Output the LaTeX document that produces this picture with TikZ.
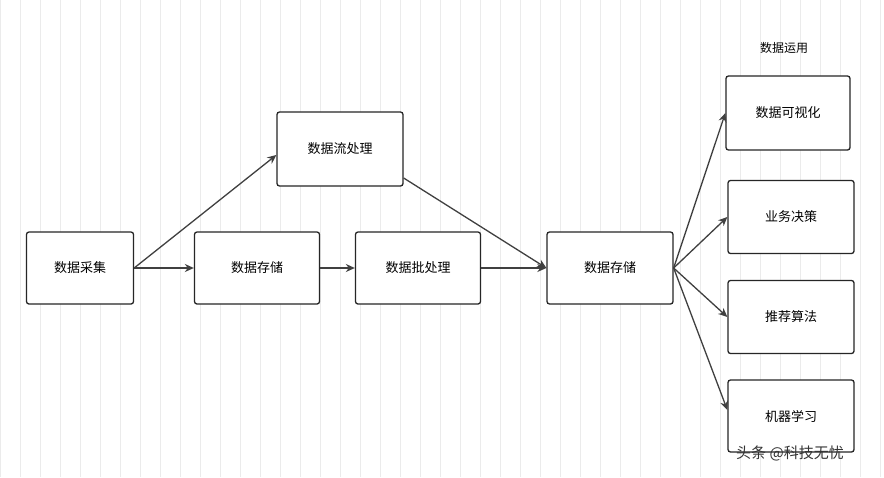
\documentclass[tikz,border=0pt]{standalone}
\usepackage{fontspec}
\newfontfamily\cjk{Noto Sans CJK SC}
\usetikzlibrary{arrows.meta}
\begin{document}
\begin{tikzpicture}[x=1pt,y=-1pt,
  box/.style={draw=black!85,line width=1.3pt,rounded corners=2.5pt,fill=white,font=\cjk\fontsize{13}{15}\selectfont,inner sep=0pt},
  arr/.style={draw=black!75,line width=1.3pt,-{Stealth[length=9pt,width=8pt]}}]
\useasboundingbox (0,0) rectangle (884,477);
\fill[white] (0,0) rectangle (884,477);
\draw[black!8,line width=0.5pt] (0,0) grid[step=20] (884,477);
\node[box,minimum width=107pt,minimum height=72pt] (a) at (80,268) {数据采集};
\node[box,minimum width=125pt,minimum height=72pt] (s1) at (257,268) {数据存储};
\node[box,minimum width=125pt,minimum height=72pt] (b) at (418,268) {数据批处理};
\node[box,minimum width=126pt,minimum height=74pt] (f) at (340,149) {数据流处理};
\node[box,minimum width=126pt,minimum height=72pt] (s2) at (610,268) {数据存储};
\node[box,minimum width=124pt,minimum height=74pt] (v) at (788,113) {数据可视化};
\node[box,minimum width=126pt,minimum height=73pt] (d) at (791,217) {业务决策};
\node[box,minimum width=126pt,minimum height=73pt] (r) at (791,317) {推荐算法};
\node[box,minimum width=126pt,minimum height=72pt] (m) at (791,416) {机器学习};
\node[font=\cjk\fontsize{12}{14}\selectfont] (t) at (784,48) {数据运用};
\node[font=\cjk\fontsize{15}{17}\selectfont,text=black!80] (w) at (790,453) {头条 @科技无忧};
\draw[arr] (a.east) -- (f.west|-0,155);
\draw[arr] (a.east) -- (s1.west);
\draw[arr] (s1.east) -- (b.west);
\draw[arr] (b.east) -- (s2.west);
\draw[arr] (f.east|-0,178) -- (s2.west);
\draw[arr] (s2.east) -- (v.west);
\draw[arr] (s2.east) -- (d.west);
\draw[arr] (s2.east) -- (r.west);
\draw[arr] (s2.east) -- (m.west|-0,410);
\end{tikzpicture}
\end{document}
